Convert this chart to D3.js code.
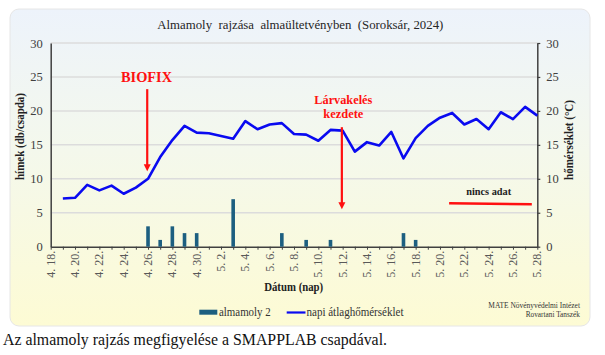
<!DOCTYPE html>
<html><head><meta charset="utf-8">
<script src="https://cdn.jsdelivr.net/npm/d3@7"></script>
<style>html,body{margin:0;padding:0;background:#fff;}svg{display:block;}
svg text{font-family:"Liberation Serif","Times New Roman","DejaVu Serif",serif !important;}</style>
</head><body>
<script>
// ---- data ----
const categories = ["4. 18.","4. 19.","4. 20.","4. 21.","4. 22.","4. 23.","4. 24.","4. 25.","4. 26.","4. 27.","4. 28.","4. 29.","4. 30.",
  "5. 1.","5. 2.","5. 3.","5. 4.","5. 5.","5. 6.","5. 7.","5. 8.","5. 9.","5. 10.","5. 11.","5. 12.","5. 13.","5. 14.","5. 15.",
  "5. 16.","5. 17.","5. 18.","5. 19.","5. 20.","5. 21.","5. 22.","5. 23.","5. 24.","5. 25.","5. 26.","5. 27.","5. 28."];
const tickLabels = ["4. 18.","4. 20.","4. 22.","4. 24.","4. 26.","4. 28.","4. 30.","5. 2.","5. 4.","5. 6.","5. 8.","5. 10.","5. 12.",
  "5. 14.","5. 16.","5. 18.","5. 20.","5. 22.","5. 24.","5. 26.","5. 28."];
const moths = [0,0,0,0,0,0,0,0,3,1,3,2,2,0,0,7,0,0,0,2,0,1,0,1,0,0,0,0,0,2,1,0,0,0,0,0,0,0,0,0,0];
const temperature = [null,7.1,7.2,9.1,8.3,9.0,7.8,8.7,10.0,13.2,15.7,17.8,16.8,16.7,16.3,15.9,18.5,17.3,18.0,18.2,16.6,16.5,15.6,17.2,17.1,
  14.0,15.4,14.9,16.9,13.0,16.0,17.8,19.0,19.7,18.0,18.8,17.3,19.8,18.8,20.6,19.3];
const yTicks = [0,5,10,15,20,25,30];
const noDataSpan = [32.75, 39.55];
const noDataValues = [6.4, 6.25];
const biofix = {day: 8, from: 23.2, to: 11.1};
const larva = {day: 24, from: 17.6, to: 5.5};

// ---- drawing ----
const W = 605, H = 355;
const svg = d3.select("body").append("svg").attr("width", W).attr("height", H);

const defs = svg.append("defs");
const grad = defs.append("linearGradient").attr("id","bg").attr("x1",0).attr("y1",0).attr("x2",0).attr("y2",1);
grad.append("stop").attr("offset","0%").attr("stop-color","#edf3fb");
grad.append("stop").attr("offset","45%").attr("stop-color","#f4f8ec");
grad.append("stop").attr("offset","100%").attr("stop-color","#fdfbd4");

svg.append("rect").attr("x",10).attr("y",9).attr("width",580).attr("height",317).attr("rx",9)
  .attr("fill","url(#bg)").attr("stroke","#e6e6e6").attr("stroke-width",1);

const x = d3.scaleLinear().domain([0, categories.length - 1]).range([50.7, 537.3]);
const y = d3.scaleLinear().domain([0, 30]).range([246.7, 43]);

function txt(opts){
  const t = svg.append("text").text(opts.text)
    .attr("font-size", opts.size).attr("fill", opts.fill || "#222")
    .attr("text-anchor", opts.anchor || "start");
  if (opts.bold) t.attr("font-weight","bold");
  if (opts.transform) t.attr("transform", opts.transform); else t.attr("x", opts.x).attr("y", opts.y);
  if (opts.len) t.attr("textLength", opts.len).attr("lengthAdjust","spacingAndGlyphs");
  return t;
}

// gridlines
svg.append("g").selectAll("line").data(yTicks.filter(d => d > 0)).join("line")
  .attr("x1", x(0)).attr("x2", x(40)).attr("y1", d => y(d)).attr("y2", d => y(d))
  .attr("stroke","#dcdcdc").attr("stroke-width",1.5);

// left axis
const gl = svg.append("g").attr("transform", `translate(${x(0)},0)`)
  .call(d3.axisLeft(y).tickValues(yTicks).tickSize(0).tickPadding(8));
gl.select(".domain").attr("stroke","#404040").attr("stroke-width",1.5);
gl.selectAll("text").attr("font-size",12.5).attr("fill","#404040");

// right axis
const gr = svg.append("g").attr("transform", `translate(${x(40)},0)`)
  .call(d3.axisRight(y).tickValues(yTicks).tickSize(3).tickSizeOuter(0).tickPadding(6));
gr.select(".domain").attr("stroke","#404040").attr("stroke-width",1.5);
gr.selectAll(".tick line").attr("stroke","#404040").attr("stroke-width",1.2);
gr.selectAll("text").attr("font-size",12.5).attr("fill","#404040");

// x axis
const gx = svg.append("g").attr("transform", `translate(0,${y(0)})`)
  .call(d3.axisBottom(x).tickValues(d3.range(categories.length)).tickSize(3).tickSizeOuter(0).tickFormat(() => ""));
gx.select(".domain").attr("stroke","#404040").attr("stroke-width",1.5);
gx.selectAll(".tick line").attr("stroke","#404040");
svg.append("g").selectAll("text").data(tickLabels).join("text")
  .attr("transform", d => `translate(${x(categories.indexOf(d)) + 4},${y(0) + 4}) rotate(-90)`)
  .attr("text-anchor","end").attr("font-size",12).attr("fill","#595959")
  .text(d => d);

// bars
svg.append("g").selectAll("rect").data(moths.map((v,i)=>({v,i})).filter(d => d.v > 0)).join("rect")
  .attr("x", d => x(d.i) - 1.8).attr("width", 3.6)
  .attr("y", d => y(d.v)).attr("height", d => y(0) - y(d.v))
  .attr("fill","#1d5f80");

// temperature line
const line = d3.line().defined(d => d.v != null).x(d => x(d.i)).y(d => y(d.v));
svg.append("path").datum(temperature.map((v,i)=>({v,i})))
  .attr("d", line).attr("fill","none").attr("stroke","#0a0af0").attr("stroke-width",2.6)
  .attr("stroke-linejoin","round");

// no data segment
svg.append("line").attr("x1", x(noDataSpan[0])).attr("x2", x(noDataSpan[1]))
  .attr("y1", y(noDataValues[0])).attr("y2", y(noDataValues[1]))
  .attr("stroke","#ff1010").attr("stroke-width",2.6);
txt({text:"nincs adat", x:488.7, y:194.5, anchor:"middle", bold:true, size:10.5, len:45});

// arrows
function arrow(a){
  const xx = x(a.day) - 0.8, y1 = y(a.from), y2 = y(a.to);
  svg.append("line").attr("x1",xx).attr("x2",xx).attr("y1",y1).attr("y2",y2 - 6)
    .attr("stroke","#ff1010").attr("stroke-width",2.2);
  svg.append("path").attr("d",`M${xx-3.5},${y2-7} L${xx+3.5},${y2-7} L${xx},${y2} Z`).attr("fill","#ff1010");
}
arrow(biofix); arrow(larva);
txt({text:"BIOFIX", x:146.5, y:81.5, anchor:"middle", bold:true, size:15, fill:"#ff1010", len:51});
txt({text:"Lárvakelés", x:343.3, y:103.5, anchor:"middle", bold:true, size:13, fill:"#ff1010", len:58});
txt({text:"kezdete", x:343.3, y:117.5, anchor:"middle", bold:true, size:13, fill:"#ff1010", len:40});

// title
txt({text:"Almamoly  rajzása  almaültetvényben  (Soroksár, 2024)", x:300.3, y:29, anchor:"middle", size:13.5, fill:"#262626", len:286})
  .attr("xml:space","preserve").style("white-space","pre");

// axis titles
txt({text:"hímek (db/csapda)", transform:"translate(24,136.5) rotate(-90)", anchor:"middle", bold:true, size:11.5, len:87});
txt({text:"hőmérséklet (°C)", transform:"translate(573,140) rotate(-90)", anchor:"middle", bold:true, size:11.5, len:80});
txt({text:"Dátum (nap)", x:293.7, y:291, anchor:"middle", bold:true, size:12, len:59});

// legend
svg.append("rect").attr("x",199.3).attr("y",309.7).attr("width",18).attr("height",5).attr("fill","#1d5f80");
txt({text:"almamoly 2", x:219, y:316, size:11.5, fill:"#333", len:51.7});
svg.append("line").attr("x1",286.7).attr("x2",305.5).attr("y1",312.5).attr("y2",312.5).attr("stroke","#0a0af0").attr("stroke-width",2.2);
txt({text:"napi átlaghőmérséklet", x:306.5, y:316, size:11.5, fill:"#333", len:97});

// credit
txt({text:"MATE Növényvédelmi Intézet", x:580, y:308, anchor:"end", size:7.5, fill:"#333", len:91.7});
txt({text:"Rovartani Tanszék", x:580, y:317, anchor:"end", size:7.5, fill:"#333", len:54.3});

// caption
txt({text:"Az almamoly rajzás megfigyelése a SMAPPLAB csapdával.", x:3, y:345, size:17.5, fill:"#111", len:384});
</script>
</body></html>
